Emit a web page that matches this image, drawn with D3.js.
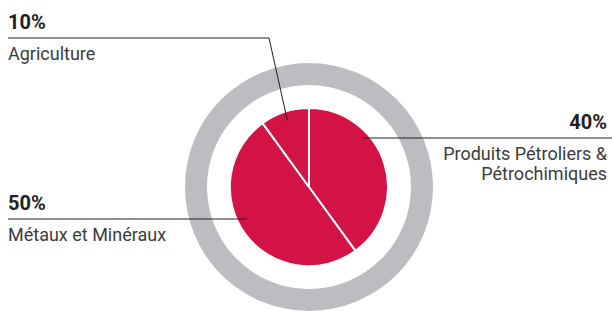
<!DOCTYPE html>
<html lang="fr">
<head>
    <meta charset="UTF-8">
    <title>pie</title>
    <script src="https://cdn.jsdelivr.net/npm/d3@7"></script>
    <style>
        body{ margin:0; background:#fff; }
        .pct{ font-family: Roboto, sans-serif; font-weight:700; font-size:20px; fill:#231f20; }
        .lbl{ font-family: Roboto, sans-serif; font-size:18px; fill:#3c3c3c; }
    </style>
</head>
<body>
<svg id="main" width="612" height="311"></svg>
<script>
    // data
    let categories = ["Produits Pétroliers & Pétrochimiques", "Métaux et Minéraux", "Agriculture"]
    let values = [40, 50, 10]
    let pctLabels = ["40%", "50%", "10%"]
    let labelLines = [["Produits Pétroliers &", "Pétrochimiques"], ["Métaux et Minéraux"], ["Agriculture"]]

    let svg = d3.select("#main")
    let cx = 309, cy = 187
    let g = svg.append("g").attr("transform", `translate(${cx},${cy})`)

    // grey ring
    g.append("path")
        .attr("d", d3.arc().innerRadius(102).outerRadius(124).startAngle(0).endAngle(2*Math.PI)())
        .attr("fill", "#bcbdc0")

    let pie = d3.pie().sort(null).value(d => d)
    let arcs = pie(values)
    let arc = d3.arc().innerRadius(0).outerRadius(79)

    g.selectAll(".slice")
        .data(arcs)
        .enter()
        .append("path")
        .attr("class", "slice")
        .attr("d", arc)
        .attr("fill", "#d31245")
        .attr("stroke", "#fff")
        .attr("stroke-width", 2)
        .attr("stroke-linejoin", "round")

    // label layout (per slice): where the leader touches the slice, and where the text goes
    let layout = [
        {frac: 0.33, r: 73, side: "right", lineY: 138, textX: 607, knee: null},
        {frac: 0.55, r: 70, side: "left", lineY: 219, textX: 8, knee: null},
        {frac: 0.5, r: 70, side: "left", lineY: 38, textX: 8, knee: 269}
    ]

    arcs.forEach(function (d, i) {
        let L = layout[i]
        let a = d.startAngle + (d.endAngle - d.startAngle) * L.frac
        let px = cx + L.r * Math.sin(a)
        let py = cy - L.r * Math.cos(a)
        let pts
        if (L.knee !== null) {
            pts = [[L.textX, L.lineY], [L.knee, L.lineY], [px, py]]
        } else if (L.side === "right") {
            pts = [[px, L.lineY], [612, L.lineY]]
        } else {
            pts = [[L.textX, L.lineY], [px, L.lineY]]
        }
        svg.append("path")
            .attr("d", d3.line()(pts))
            .attr("fill", "none")
            .attr("stroke", "#231f20")
            .attr("stroke-width", 1)

        let anchor = L.side === "right" ? "end" : "start"
        svg.append("text")
            .attr("class", "pct")
            .attr("x", L.textX)
            .attr("y", L.lineY - 9)
            .attr("text-anchor", anchor)
            .text(pctLabels[i])
        labelLines[i].forEach(function (t, j) {
            svg.append("text")
                .attr("class", "lbl")
                .attr("x", L.textX)
                .attr("y", L.lineY + 22 + j * 20)
                .attr("text-anchor", anchor)
                .text(t)
        })
    })
</script>
</body>
</html>
